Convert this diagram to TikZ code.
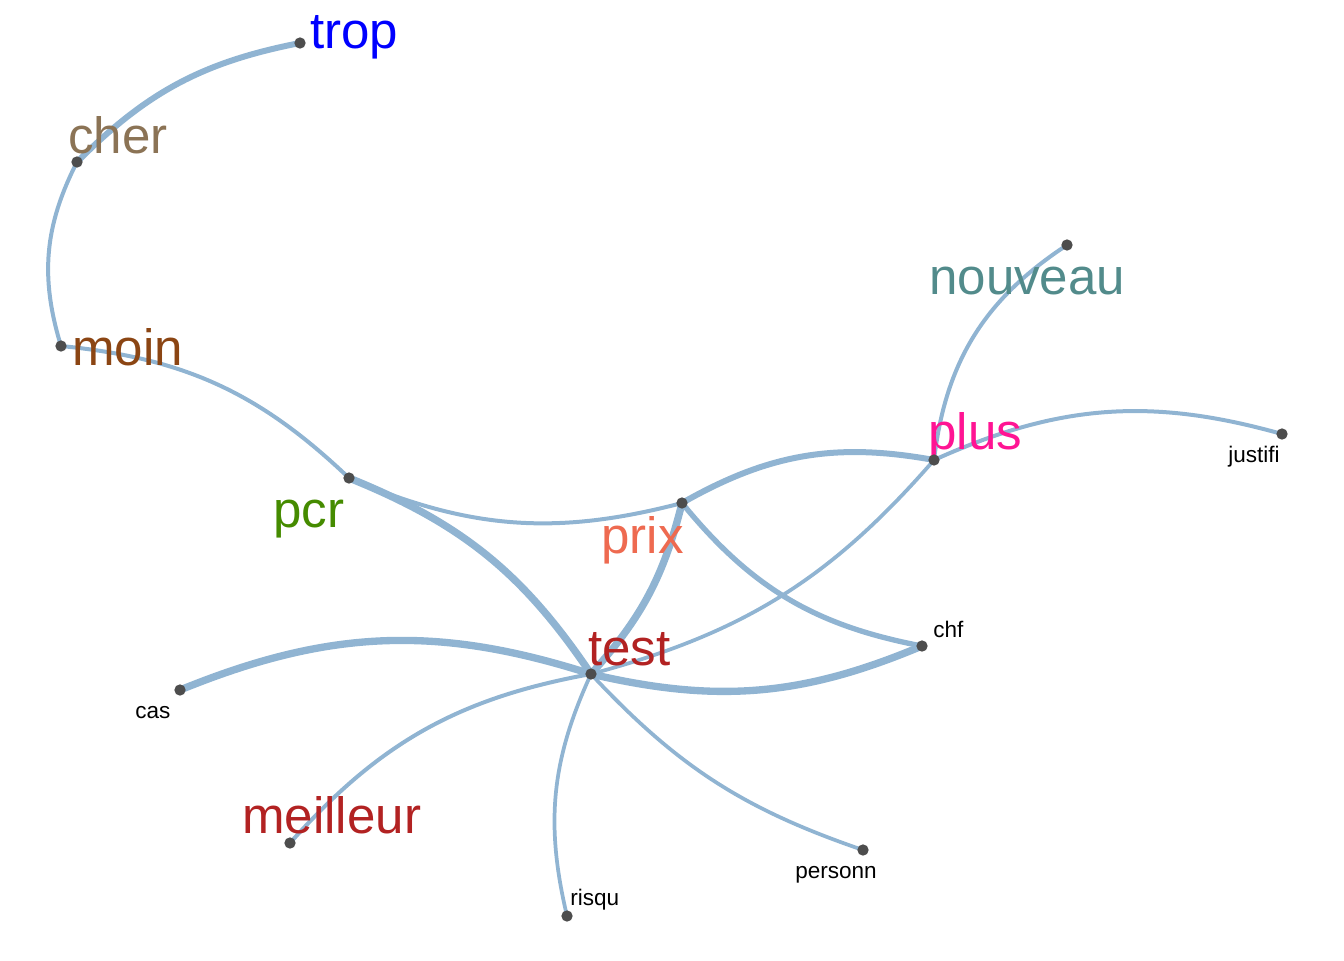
\documentclass[tikz,border=0pt]{standalone}
\usepackage{fontspec}
\setmainfont{Liberation Sans}
\usepackage{tikz}
\usetikzlibrary{arrows.meta}
\usetikzlibrary{positioning}
\definecolor{steelblue}{RGB}{70,130,180}
\definecolor{dotGrey}{RGB}{77,77,77}
\definecolor{tropColor}{RGB}{0,0,255}
\definecolor{cherColor}{RGB}{139,115,85}
\definecolor{moinColor}{RGB}{139,69,19}
\definecolor{pcrColor}{RGB}{69,139,0}
\definecolor{prixColor}{RGB}{238,106,80}
\definecolor{testColor}{RGB}{178,34,34}
\definecolor{plusColor}{RGB}{255,20,147}
\definecolor{nouveauColor}{RGB}{82,139,139}
\pgfdeclarelayer{edges}
\pgfsetlayers{edges,main}
\tikzset{
    wordDot/.style={
        ,   circle
        ,   fill=dotGrey
        ,   inner sep=0pt
        ,   minimum size=8.5pt
    },
    bigWord/.style={ % large labels
        ,   anchor=base west
        ,   inner sep=0pt
        ,   font={\fontsize{38.3pt}{40pt}\selectfont}
        ,   text=#1
    },
    smallWord/.style={ % small labels
        ,   anchor=base west
        ,   inner sep=0pt
        ,   font={\fontsize{16.9pt}{18pt}\selectfont}
        ,   text=black
    },
    lnk/.style={ % width of the arc
        ,   draw=steelblue!60!white
        ,   line width=#1
    },
}
\begin{document}
\begin{tikzpicture}[x=0.75pt,y=0.75pt]
		\useasboundingbox (0,0) rectangle (1344,-960);

		% labels
		\node[bigWord=tropColor] (ltrop) at (310,-48) {trop};
		\node[bigWord=cherColor] (lcher) at (68,-153) {cher};
		\node[bigWord=moinColor] (lmoin) at (72,-365) {moin};
		\node[bigWord=pcrColor] (lpcr) at (273,-527) {pcr};
		\node[bigWord=prixColor] (lprix) at (601,-553) {prix};
		\node[bigWord=testColor] (ltest) at (588,-665) {test};
		\node[bigWord=plusColor] (lplus) at (928,-449) {plus};
		\node[bigWord=nouveauColor] (lnouveau) at (929,-294) {nouveau};
		\node[bigWord=testColor] (lmeilleur) at (242,-833) {meilleur};
		\node[smallWord] (ljustifi) at (1228,-462) {justifi};
		\node[smallWord] (lchf) at (933,-637) {chf};
		\node[smallWord] (lcas) at (135,-718) {cas};
		\node[smallWord] (lrisqu) at (570,-905) {risqu};
		\node[smallWord] (lpersonn) at (795,-878) {personn};

		% points
		\foreach \n/\x/\y in {trop/300/43, cher/77/162, moin/61/346, pcr/349/478,
			prix/682/503, plus/934/460, nouveau/1067/245, justifi/1282/434,
			chf/922/646, test/591/674, cas/180/690, meilleur/290/843,
			risqu/567/916, personn/863/850}{
			\node[wordDot] (\n) at (\x,-\y) {};
		}

		\begin{pgfonlayer}{edges}
		\draw[lnk=4.5pt] (trop.center) to[bend right=17] (cher.center);
		\draw[lnk=3pt] (cher.center) to[bend right=22] (moin.center);
		\draw[lnk=3pt] (moin.center) to[bend left=19] (pcr.center);
		\draw[lnk=3pt] (pcr.center) to[bend right=19] (prix.center);
		\draw[lnk=5.5pt] (pcr.center) to[bend left=17] (test.center);
		\draw[lnk=5.5pt] (prix.center) to[bend left=14] (test.center);
		\draw[lnk=4.5pt] (prix.center) to[bend left=20] (plus.center);
		\draw[lnk=4pt] (prix.center) to[bend right=20] (chf.center);
		\draw[lnk=3pt] (plus.center) to[bend left=25] (nouveau.center);
		\draw[lnk=3pt] (plus.center) to[bend left=20] (justifi.center);
		\draw[lnk=2.8pt] (plus.center) to[bend left=17] (test.center);
		\draw[lnk=5.5pt] (test.center) to[bend right=18] (chf.center);
		\draw[lnk=5.5pt] (test.center) to[bend right=20] (cas.center);
		\draw[lnk=3pt] (test.center) to[bend right=19] (meilleur.center);
		\draw[lnk=2.8pt] (test.center) to[bend right=19] (risqu.center);
		\draw[lnk=2.8pt] (test.center) to[bend right=14] (personn.center);
		\end{pgfonlayer}
\end{tikzpicture}
\end{document}
